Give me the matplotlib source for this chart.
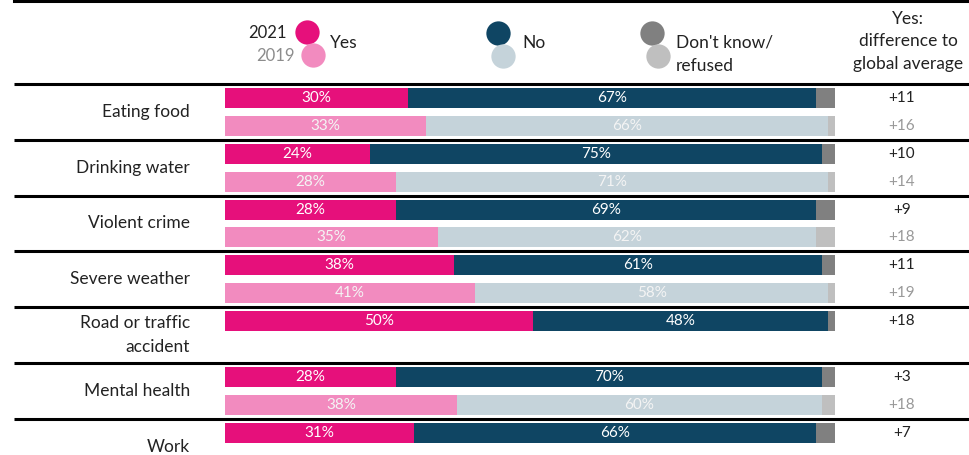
import matplotlib
matplotlib.use("Agg")
import matplotlib.pyplot as plt
import matplotlib.transforms as mtransforms

plt.rcParams['font.family'] = ['Lato', 'DejaVu Sans']

# --- data ---
categories = ["Eating food", "Drinking water", "Violent crime", "Severe weather",
              "Road or traffic\naccident", "Mental health", "Work"]
yes_2021 = [30, 24, 28, 38, 50, 28, 31]
no_2021 = [67, 75, 69, 61, 48, 70, 66]
dk_2021 = [3, 2, 3, 2, 1, 2, 3]
yes_2019 = [33, 28, 35, 41, None, 38, None]
no_2019 = [66, 71, 62, 58, None, 60, None]
dk_2019 = [1, 1, 3, 1, None, 2, None]
diff_2021 = ["+11", "+10", "+9", "+11", "+18", "+3", "+7"]
diff_2019 = ["+16", "+14", "+18", "+19", None, "+18", None]

# --- colours ---
c_yes21, c_yes19 = "#E6107B", "#F28BBF"
c_no21, c_no19 = "#0F4563", "#C5D3DA"
c_dk21, c_dk19 = "#808080", "#BFBFBF"
c_text = "#222222"
c_grey_text = "#999999"

W, H = 969, 455
fig = plt.figure(figsize=(W / 100, H / 100), dpi=100)
# pixel transform for layout text (origin top-left)
px = mtransforms.Affine2D().scale(1 / W, -1 / H).translate(0, 1) + fig.transFigure

bar_left, bar_right = 225, 834.5
row_h = 55.8
first_line = 84
ax = fig.add_axes([bar_left / W, 0, (bar_right - bar_left) / W, 1])
ax.set_xlim(0, 100)
ax.set_ylim((H - first_line) / row_h, -first_line / row_h)
ax.axis("off")

bh = 20 / row_h


def draw_row(y, yes, no, dk, cols, label_col):
    tot = yes + no + dk
    parts = [yes / tot * 100, no / tot * 100, dk / tot * 100]
    left = 0
    for k, (w, c) in enumerate(zip(parts, cols)):
        ax.barh(y, w, left=left, height=bh, color=c, edgecolor="none")
        if k < 2:
            ax.text(left + w / 2, y, f"{[yes, no][k]}%", ha="center", va="center",
                    color=label_col, fontsize=11)
        left += w


lbl_tr = mtransforms.blended_transform_factory(px, ax.transData)
for g, cat in enumerate(categories):
    y21, y19 = g + 0.25, g + 0.75
    draw_row(y21, yes_2021[g], no_2021[g], dk_2021[g], [c_yes21, c_no21, c_dk21], "white")
    if yes_2019[g] is not None:
        draw_row(y19, yes_2019[g], no_2019[g], dk_2019[g], [c_yes19, c_no19, c_dk19], "#F4F4F4")
    ax.text(190, g + 0.5, cat, transform=lbl_tr, ha="right", va="center",
            fontsize=12.5, color=c_text, linespacing=1.6)
    ax.text(902, y21, diff_2021[g], transform=lbl_tr, ha="center", va="center",
            fontsize=11, color=c_text)
    if diff_2019[g] is not None:
        ax.text(902, y19, diff_2019[g], transform=lbl_tr, ha="center", va="center",
                fontsize=11, color=c_grey_text)
    # separator line
    ax.plot([14, W], [g, g], transform=lbl_tr, color="black", lw=2.2,
            clip_on=False, solid_capstyle="butt")

# top rule
fig.add_artist(plt.Line2D([14, W], [1, 1], transform=px, color="black", lw=2.2))

# --- legend header ---
legend_pts = [(307, 32, c_yes21), (313, 55, c_yes19),
              (498, 33, c_no21), (503, 56, c_no19),
              (652, 33, c_dk21), (658, 56, c_dk19)]
for x, y, c in legend_pts:
    fig.add_artist(plt.Line2D([x], [y], transform=px, marker="o", markersize=17.5,
                              markerfacecolor=c, markeredgecolor="none", linestyle="none"))
fig.text(287, 33, "2021", transform=px, ha="right", va="center", fontsize=12, color=c_text)
fig.text(295, 56, "2019", transform=px, ha="right", va="center", fontsize=12, color="#8C8C8C")
fig.text(330, 43, "Yes", transform=px, ha="left", va="center", fontsize=12.5, color=c_text)
fig.text(522, 43, "No", transform=px, ha="left", va="center", fontsize=12.5, color=c_text)
fig.text(676, 54, "Don't know/\nrefused", transform=px, ha="left", va="center",
         fontsize=12.5, color=c_text, linespacing=1.55)
fig.text(908, 41, "Yes:\ndifference to\nglobal average", transform=px, ha="center",
         va="center", fontsize=12.5, color=c_text, linespacing=1.5)

fig.savefig("out.png", dpi=100)
